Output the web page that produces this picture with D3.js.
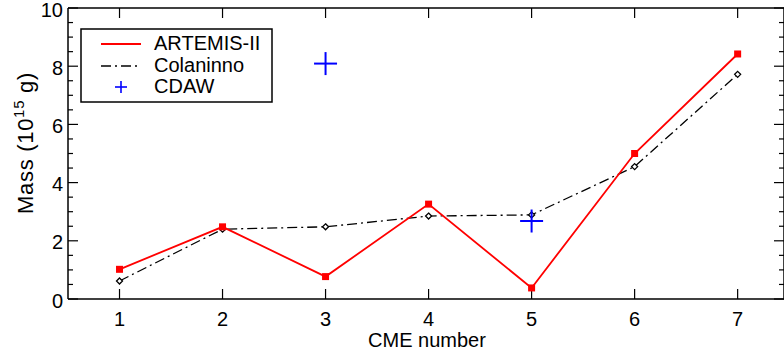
<!DOCTYPE html>
<html>
<head>
<meta charset="utf-8">
<script src="https://cdn.jsdelivr.net/npm/d3@7"></script>
<style>
  body { margin: 0; background: #fff; }
  text { font-family: "Liberation Sans", Arial, Helvetica, sans-serif; }
</style>
</head>
<body>
<div id="chart"></div>
<script>
// data
const cme = [1, 2, 3, 4, 5, 6, 7];
const artemis = [1.02, 2.48, 0.77, 3.26, 0.38, 5.0, 8.42];
const colaninno = [0.62, 2.40, 2.48, 2.85, 2.89, 4.55, 7.72];
const cdawX = [3, 5];
const cdawY = [8.09, 2.68];
const xTicks = [1, 2, 3, 4, 5, 6, 7];
const yTicks = [0, 2, 4, 6, 8, 10];
const yMinor = d3.range(0, 10.01, 0.5);

const W = 784, H = 353;
const margin = {top: 8, right: 0, bottom: 54, left: 68};

const svg = d3.select("#chart").append("svg")
  .attr("width", W).attr("height", H);

const x = d3.scaleLinear().domain([0.5, 7.45]).range([margin.left, 784]);
const y = d3.scaleLinear().domain([0, 10]).range([H - margin.bottom, margin.top]);

const x0 = x.range()[0], x1 = x.range()[1];
const y0 = y.range()[0], y1 = y.range()[1];

// frame
const frame = svg.append("g").attr("stroke", "#000").attr("stroke-width", 1.5);
frame.append("line").attr("x1", x0).attr("x2", x1).attr("y1", y0).attr("y2", y0);
frame.append("line").attr("x1", x0).attr("x2", x1).attr("y1", y1).attr("y2", y1);
frame.append("line").attr("x1", x0).attr("x2", x0).attr("y1", y0).attr("y2", y1);
frame.append("line").attr("x1", x1).attr("x2", x1).attr("y1", y0).attr("y2", y1);

// x ticks, bottom up and top down
const tk = svg.append("g").attr("stroke", "#000").attr("stroke-width", 1.2);
xTicks.forEach(function(t) {
  tk.append("line").attr("x1", x(t)).attr("x2", x(t)).attr("y1", y0).attr("y2", y0 - 10);
  tk.append("line").attr("x1", x(t)).attr("x2", x(t)).attr("y1", y1).attr("y2", y1 + 10);
});
// y ticks left and right
yMinor.forEach(function(t) {
  const len = (t % 2 === 0) ? 10 : 5;
  tk.append("line").attr("x1", x0).attr("x2", x0 + len).attr("y1", y(t)).attr("y2", y(t));
  tk.append("line").attr("x1", x1).attr("x2", x1 - len).attr("y1", y(t)).attr("y2", y(t));
});

// tick labels
svg.append("g").selectAll("text").data(xTicks).join("text")
  .attr("x", d => x(d)).attr("y", y0 + 27)
  .attr("text-anchor", "middle").attr("font-size", 20)
  .text(d => d);
svg.append("g").selectAll("text").data(yTicks).join("text")
  .attr("x", x0 - 5).attr("y", d => y(d) + 8.5)
  .attr("text-anchor", "end").attr("font-size", 20)
  .text(d => d);

// axis titles
svg.append("text")
  .attr("x", 427).attr("y", 347)
  .attr("text-anchor", "middle").attr("font-size", 20)
  .text("CME number");
const yl = svg.append("text")
  .attr("transform", "translate(33,143) rotate(-90)")
  .attr("text-anchor", "middle").attr("font-size", 22)
  .attr("letter-spacing", 0.7);
yl.append("tspan").text("Mass (10");
yl.append("tspan").attr("font-size", 15).attr("dy", -9).text("15");
yl.append("tspan").attr("dy", 9).text(" g)");

// lines
const seriesLine = d3.line().x((d, i) => x(cme[i])).y(d => y(d));
svg.append("path").datum(colaninno)
  .attr("d", seriesLine).attr("fill", "none")
  .attr("stroke", "#000").attr("stroke-width", 1.3)
  .attr("stroke-dasharray", "10,4,2,4");
svg.append("path").datum(artemis)
  .attr("d", seriesLine).attr("fill", "none")
  .attr("stroke", "#ff0000").attr("stroke-width", 1.8);

// markers
svg.append("g").selectAll("path").data(colaninno).join("path")
  .attr("transform", (d, i) => `translate(${x(cme[i])},${y(d)})`)
  .attr("d", "M0,-3L3,0L0,3L-3,0Z")
  .attr("fill", "#fff").attr("stroke", "#000").attr("stroke-width", 1.3);
svg.append("g").selectAll("rect").data(artemis).join("rect")
  .attr("x", (d, i) => x(cme[i]) - 3.5).attr("y", d => y(d) - 3.5)
  .attr("width", 7).attr("height", 7).attr("fill", "#ff0000");

// CDAW crosses
const plus = function(g, cx, cy, r, sw) {
  g.append("line").attr("x1", cx - r).attr("x2", cx + r).attr("y1", cy).attr("y2", cy)
    .attr("stroke", "#0000ff").attr("stroke-width", sw);
  g.append("line").attr("x1", cx).attr("x2", cx).attr("y1", cy - r).attr("y2", cy + r)
    .attr("stroke", "#0000ff").attr("stroke-width", sw);
};
const cg = svg.append("g");
cdawX.forEach(function(v, i) { plus(cg, x(v), y(cdawY[i]), 11.5, 2); });

// legend
const lg = svg.append("g");
lg.append("rect").attr("x", 81).attr("y", 29).attr("width", 191).attr("height", 73)
  .attr("fill", "#fff").attr("stroke", "#000").attr("stroke-width", 1.5);
lg.append("line").attr("x1", 101).attr("x2", 141).attr("y1", 44).attr("y2", 44)
  .attr("stroke", "#ff0000").attr("stroke-width", 1.8);
lg.append("line").attr("x1", 101).attr("x2", 141).attr("y1", 66).attr("y2", 66)
  .attr("stroke", "#000").attr("stroke-width", 1.3).attr("stroke-dasharray", "10,4,2,4");
plus(lg, 121, 87, 6, 1.6);
const labels = ["ARTEMIS-II", "Colaninno", "CDAW"];
lg.selectAll("text").data(labels).join("text")
  .attr("x", 154).attr("y", (d, i) => 50 + i * 21.7)
  .attr("font-size", 20).text(d => d);
</script>
</body>
</html>
